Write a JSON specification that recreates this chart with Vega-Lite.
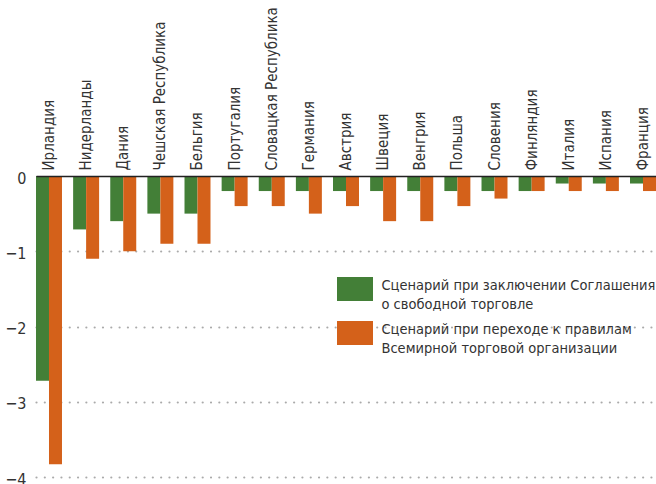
{
  "$schema": "https://vega.github.io/schema/vega-lite/v6.json",
  "width": 620,
  "height": 301,
  "autosize": {"type": "none"},
  "padding": {"left": 36, "top": 176, "right": 0, "bottom": 7},
  "background": "white",
  "config": {
    "view": {"stroke": null},
    "font": "DejaVu Sans Condensed, Liberation Sans, sans-serif"
  },
  "data": {
    "values": [
      {"country": "Ирландия", "scenario": "Соглашение", "value": -2.72},
      {"country": "Ирландия", "scenario": "ВТО", "value": -3.83},
      {"country": "Нидерланды", "scenario": "Соглашение", "value": -0.71},
      {"country": "Нидерланды", "scenario": "ВТО", "value": -1.1},
      {"country": "Дания", "scenario": "Соглашение", "value": -0.6},
      {"country": "Дания", "scenario": "ВТО", "value": -1.0},
      {"country": "Чешская Республика", "scenario": "Соглашение", "value": -0.5},
      {"country": "Чешская Республика", "scenario": "ВТО", "value": -0.9},
      {"country": "Бельгия", "scenario": "Соглашение", "value": -0.5},
      {"country": "Бельгия", "scenario": "ВТО", "value": -0.9},
      {"country": "Португалия", "scenario": "Соглашение", "value": -0.2},
      {"country": "Португалия", "scenario": "ВТО", "value": -0.4},
      {"country": "Словацкая Республика", "scenario": "Соглашение", "value": -0.2},
      {"country": "Словацкая Республика", "scenario": "ВТО", "value": -0.4},
      {"country": "Германия", "scenario": "Соглашение", "value": -0.2},
      {"country": "Германия", "scenario": "ВТО", "value": -0.5},
      {"country": "Австрия", "scenario": "Соглашение", "value": -0.2},
      {"country": "Австрия", "scenario": "ВТО", "value": -0.4},
      {"country": "Швеция", "scenario": "Соглашение", "value": -0.2},
      {"country": "Швеция", "scenario": "ВТО", "value": -0.6},
      {"country": "Венгрия", "scenario": "Соглашение", "value": -0.2},
      {"country": "Венгрия", "scenario": "ВТО", "value": -0.6},
      {"country": "Польша", "scenario": "Соглашение", "value": -0.2},
      {"country": "Польша", "scenario": "ВТО", "value": -0.4},
      {"country": "Словения", "scenario": "Соглашение", "value": -0.2},
      {"country": "Словения", "scenario": "ВТО", "value": -0.3},
      {"country": "Финляндия", "scenario": "Соглашение", "value": -0.2},
      {"country": "Финляндия", "scenario": "ВТО", "value": -0.2},
      {"country": "Италия", "scenario": "Соглашение", "value": -0.1},
      {"country": "Италия", "scenario": "ВТО", "value": -0.2},
      {"country": "Испания", "scenario": "Соглашение", "value": -0.1},
      {"country": "Испания", "scenario": "ВТО", "value": -0.2},
      {"country": "Франция", "scenario": "Соглашение", "value": -0.1},
      {"country": "Франция", "scenario": "ВТО", "value": -0.2}
    ]
  },
  "mark": {"type": "bar"},
  "encoding": {
    "x": {
      "field": "country",
      "type": "nominal",
      "sort": null,
      "scale": {"paddingInner": 0.3, "paddingOuter": 0},
      "axis": {
        "orient": "top",
        "title": null,
        "labelAngle": -90,
        "labelAlign": "left",
        "labelBaseline": "middle",
        "labelPadding": 6,
        "labelFontSize": 15,
        "labelColor": "#333333",
        "labelLimit": 300,
        "ticks": false,
        "domain": true,
        "domainColor": "#222222",
        "domainWidth": 1.5,
        "zindex": 1
      }
    },
    "xOffset": {
      "field": "scenario",
      "type": "nominal",
      "sort": ["Соглашение", "ВТО"],
      "scale": {"paddingInner": 0, "paddingOuter": 0}
    },
    "y": {
      "field": "value",
      "type": "quantitative",
      "scale": {"domain": [-4, 0], "nice": false, "zero": true},
      "axis": {
        "title": null,
        "values": [-4, -3, -2, -1, 0],
        "format": "d",
        "domain": false,
        "ticks": false,
        "labelPadding": 10,
        "labelFontSize": 16,
        "labelColor": "#333333",
        "labelOffset": 2,
        "grid": true,
        "gridColor": "#aaaaaa",
        "gridWidth": 2.2,
        "gridCap": "round",
        "gridDash": [0.01, 8.3],
        "gridOpacity": {"condition": {"test": "datum.value === 0", "value": 0}, "value": 1}
      }
    },
    "color": {
      "field": "scenario",
      "type": "nominal",
      "scale": {"domain": ["Соглашение", "ВТО"], "range": ["#437f37", "#d4611a"]},
      "legend": {
        "orient": "none",
        "legendX": 307,
        "legendY": 101,
        "title": null,
        "padding": 0,
        "symbolType": "M-1.5,-1H1.5V1H-1.5Z",
        "symbolSize": 576,
        "symbolStrokeWidth": 0,
        "symbolOpacity": 1,
        "labelFontSize": 14.5,
        "labelColor": "#333333",
        "labelOffset": 14.5,
        "labelLimit": 400,
        "rowPadding": 9,
        "labelExpr": "datum.label == 'Соглашение' ? ['Сценарий при заключении Соглашения', 'о свободной торговле'] : ['Сценарий при переходе к правилам', 'Всемирной торговой организации']",
        "encode": {"labels": {"update": {"lineHeight": {"value": 19}, "dy": {"value": -3}}}}
      }
    }
  }
}
